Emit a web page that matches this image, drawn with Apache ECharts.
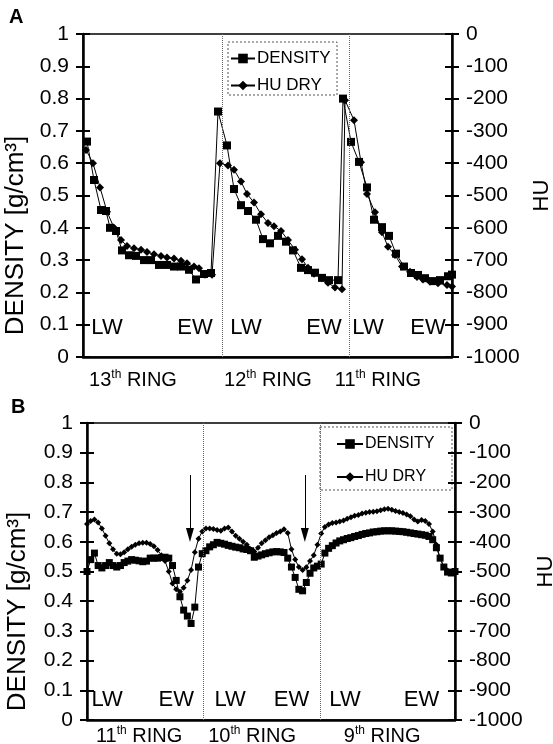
<!DOCTYPE html>
<html>
<head>
<meta charset="utf-8">
<script src="https://cdn.jsdelivr.net/npm/echarts@6/dist/echarts.min.js"></script>
<style>html,body{margin:0;padding:0;background:#fff}#c{width:553px;height:744px}</style>
</head>
<body>
<div id="c"></div>
<script>
// ---------- Panel A data (position along sample, arbitrary units) ----------
const densityPosA = [4,11,18,23,27,33,39,46,53,61,68,76,84,91,98,106,113,121,128,135,144,151,158,165,173,180,187,195,203,210,218,225,232,239,246,255,260,268,276,284,291,299,306,313,321,328,335,342,350,357,365,369];
const densityA = [0.667,0.548,0.455,0.452,0.40,0.39,0.33,0.315,0.313,0.30,0.30,0.285,0.285,0.28,0.28,0.27,0.24,0.257,0.26,0.76,0.655,0.52,0.47,0.452,0.425,0.365,0.352,0.375,0.357,0.33,0.276,0.269,0.261,0.245,0.238,0.238,0.80,0.666,0.604,0.525,0.425,0.402,0.375,0.32,0.28,0.26,0.254,0.244,0.235,0.238,0.25,0.255];
const huPosA = [3,10,17,24,31,38,44,51,58,64,71,78,84,91,98,104,111,116,122,129,137,145,151,158,164,171,178,185,191,198,205,212,219,225,231,239,245,252,259,262,271,278,284,292,299,305,312,319,327,334,340,347,355,364,369];
const huA = [-359,-400,-475,-550,-600,-638,-656,-663,-668,-675,-682,-687,-692,-695,-702,-710,-720,-725,-745,-745,-400,-407,-420,-457,-495,-522,-558,-585,-595,-610,-638,-668,-697,-724,-742,-756,-770,-785,-790,-205,-267,-397,-495,-552,-614,-659,-684,-720,-736,-752,-760,-767,-772,-777,-782];
const dividersA = [139, 266];
const ringNumA = ['13','12','11'];
const ringPosA = [50, 185, 295];
const zoneTextA = ['LW','EW','LW','EW','LW','EW'];
const zonePosA = [24, 112, 163, 241, 285, 345];

// ---------- Panel B data (sample index) ----------
const densityB = [0.50,0.54,0.562,0.52,0.512,0.52,0.53,0.52,0.515,0.52,
  0.53,0.535,0.54,0.538,0.536,0.533,0.535,0.545,0.545,0.545,
  0.547,0.548,0.545,0.52,0.47,0.415,0.37,0.35,0.325,0.38,
  0.515,0.56,0.57,0.583,0.59,0.598,0.595,0.592,0.588,0.585,
  0.582,0.58,0.576,0.574,0.57,0.548,0.552,0.556,0.56,0.563,
  0.566,0.567,0.566,0.564,0.545,0.515,0.48,0.44,0.435,0.463,
  0.494,0.512,0.518,0.525,0.562,0.578,0.587,0.596,0.603,0.607,
  0.611,0.614,0.618,0.621,0.625,0.628,0.63,0.633,0.634,0.636,
  0.637,0.637,0.637,0.636,0.635,0.634,0.632,0.63,0.628,0.626,
  0.624,0.622,0.618,0.607,0.58,0.545,0.515,0.498,0.495,0.50];
const huB = [-340,-330,-325,-335,-355,-380,-405,-425,-440,-442,
  -435,-425,-417,-410,-405,-403,-403,-407,-415,-428,
  -445,-465,-500,-540,-560,-568,-555,-530,-495,-435,
  -390,-365,-355,-355,-357,-360,-363,-355,-352,-365,
  -380,-390,-400,-410,-425,-433,-420,-405,-395,-385,
  -378,-370,-365,-358,-370,-425,-460,-485,-495,-486,
  -465,-445,-410,-372,-350,-342,-337,-335,-332,-328,
  -322,-317,-312,-310,-305,-302,-300,-299,-297,-294,
  -290,-289,-292,-296,-300,-303,-308,-314,-325,-332,
  -327,-330,-340,-365,-410,-455,-485,-497,-500,-495];
const dividersB = [31.2, 62.7];
const arrowPosB = [27.7, 58.6];
const arrowFromB = 0.825, arrowToB = 0.623;
const ringNumB = ['11','10','9'];
const ringPosB = [14, 44.4, 79.4];
const zoneTextB = ['LW','EW','LW','EW','LW','EW'];
const zonePosB = [5.4, 24, 38.5, 55, 69.4, 90];

// ---------- build ----------
const FONT = 'Liberation Sans, Arial, Helvetica, sans-serif';
const BLACK = '#000';
const zip = (xs, ys) => xs.map((x, i) => [x, ys[i]]);
const idx = arr => arr.map((v, i) => [i, v]);

function ringAxisLabel(nums, poss, margin) {
  return {
    customValues: poss,
    margin: margin,
    formatter: function (v) {
      let k = 0, best = 1e9;
      poss.forEach((p, i) => { if (Math.abs(p - v) < best) { best = Math.abs(p - v); k = i; } });
      return '{n|' + nums[k] + '}{s|th}{n| RING}';
    },
    rich: {
      n: { fontSize: 20, fontFamily: FONT, color: BLACK },
      s: { fontSize: 12, fontFamily: FONT, color: BLACK, padding: [0, 0, 11, 0] }
    }
  };
}

function xAxisDef(grid, max, nums, poss, margin) {
  return {
    gridIndex: grid, type: 'value', min: 0, max: max,
    axisLine: { show: true, lineStyle: { color: BLACK, width: 2.5 } },
    axisTick: { show: false }, splitLine: { show: false },
    axisLabel: ringAxisLabel(nums, poss, margin)
  };
}

function yMain(grid, pos, min, max, interval, name, gap, nameStyle) {
  return {
    gridIndex: grid, type: 'value', position: pos, min: min, max: max, interval: interval,
    axisLine: { show: true, onZero: false, lineStyle: { color: BLACK, width: 2.5 } },
    axisTick: { show: true, inside: false, length: 7, lineStyle: { color: BLACK, width: 2 } },
    axisLabel: { fontSize: 21, fontFamily: FONT, color: BLACK, margin: 14, formatter: v => String(v) },
    splitLine: { show: false },
    name: name, nameLocation: 'middle', nameGap: gap, nameRotate: 90,
    nameTextStyle: Object.assign({ fontSize: 22, fontFamily: FONT, color: BLACK }, nameStyle || {})
  };
}
function yDup(grid, pos, min, max, interval) {
  return {
    gridIndex: grid, type: 'value', position: pos, min: min, max: max, interval: interval,
    axisLine: { show: false }, axisLabel: { show: false }, splitLine: { show: false },
    axisTick: { show: true, inside: true, length: 7, lineStyle: { color: BLACK, width: 2 } }
  };
}

function zoneMarks(texts, poss, y, size) {
  return {
    silent: true, symbol: 'circle', symbolSize: 0,
    itemStyle: { color: 'rgba(0,0,0,0)' },
    label: { show: true, position: 'inside', formatter: '{b}', fontSize: size, fontFamily: FONT, color: BLACK },
    data: texts.map((t, i) => ({ name: t, coord: [poss[i], y] }))
  };
}
function dividerLines(poss) {
  return {
    silent: true, symbol: ['none', 'none'], label: { show: false },
    lineStyle: { color: '#666', type: 'dotted', width: 1 },
    data: poss.map(p => ({ xAxis: p }))
  };
}

const lineBase = {
  type: 'line', animation: false, showSymbol: true, connectNulls: true,
  lineStyle: { color: BLACK, width: 1 }, itemStyle: { color: BLACK }, emphasis: { disabled: true }
};

const densName = { fontSize: 26, padding: [0, 80, 0, 0] };

const option = {
  animation: false,
  backgroundColor: '#fff',
  textStyle: { fontFamily: FONT },
  title: [
    { text: 'A', left: 4, top: 2, textStyle: { fontSize: 20, fontWeight: 'bold', fontFamily: FONT, color: BLACK } },
    { text: 'B', left: 6, top: 392, textStyle: { fontSize: 20, fontWeight: 'bold', fontFamily: FONT, color: BLACK } }
  ],
  grid: [
    { left: 83, top: 34, width: 369, height: 323, show: true, borderColor: BLACK, borderWidth: 1.5, backgroundColor: 'transparent', outerBoundsMode: 'none', containLabel: false },
    { left: 87, top: 423, width: 368, height: 297, show: true, borderColor: BLACK, borderWidth: 1.5, backgroundColor: 'transparent', outerBoundsMode: 'none', containLabel: false }
  ],
  legend: [
    { data: ['DENSITY', 'HU DRY'], orient: 'vertical', left: 225, top: 45, itemWidth: 24, itemHeight: 12, itemGap: 10,
      textStyle: { fontSize: 17, fontFamily: FONT, color: BLACK, padding: [0, 0, 0, -3] }, selectedMode: false },
    { data: ['DENSITY', 'HU DRY'], orient: 'vertical', left: 331, top: 431, itemWidth: 26, itemHeight: 12, itemGap: 17,
      textStyle: { fontSize: 16, fontFamily: FONT, color: BLACK, padding: [0, 0, 0, -3] }, selectedMode: false }
  ],
  graphic: [
    { type: 'rect', shape: { x: 228, y: 42, width: 109, height: 53 }, style: { fill: 'none', stroke: '#555', lineWidth: 1, lineDash: [2, 2] }, silent: true },
    { type: 'rect', shape: { x: 320, y: 427, width: 132, height: 63 }, style: { fill: 'none', stroke: '#555', lineWidth: 1, lineDash: [2, 2] }, silent: true }
  ],
  xAxis: [
    xAxisDef(0, 369, ringNumA, ringPosA, 12),
    xAxisDef(1, 99, ringNumB, ringPosB, 5)
  ],
  yAxis: [
    yMain(0, 'left', 0, 1, 0.1, 'DENSITY [g/cm³]', 52, densName),
    yMain(0, 'right', -1000, 0, 100, 'HU', 78),
    yDup(0, 'left', 0, 1, 0.1),
    yDup(0, 'right', -1000, 0, 100),
    yMain(1, 'left', 0, 1, 0.1, 'DENSITY [g/cm³]', 56, densName),
    yMain(1, 'right', -1000, 0, 100, 'HU', 80),
    yDup(1, 'left', 0, 1, 0.1),
    yDup(1, 'right', -1000, 0, 100)
  ],
  series: [
    Object.assign({}, lineBase, {
      name: 'DENSITY', xAxisIndex: 0, yAxisIndex: 0, symbol: 'rect', symbolSize: 8,
      data: zip(densityPosA, densityA),
      markPoint: zoneMarks(zoneTextA, zonePosA, 0.09, 22)
    }),
    Object.assign({}, lineBase, {
      name: 'HU DRY', xAxisIndex: 0, yAxisIndex: 1, symbol: 'diamond', symbolSize: 8,
      data: zip(huPosA, huA),
      markLine: dividerLines(dividersA)
    }),
    Object.assign({}, lineBase, {
      name: 'DENSITY', xAxisIndex: 1, yAxisIndex: 4, symbol: 'rect', symbolSize: 7,
      data: idx(densityB),
      markPoint: zoneMarks(zoneTextB, zonePosB, 0.067, 22),
      markLine: {
        silent: true, symbol: ['none', 'triangle'], symbolSize: [8, 14], label: { show: false },
        lineStyle: { color: BLACK, type: 'solid', width: 1 },
        data: arrowPosB.map(p => [{ coord: [p, arrowFromB] }, { coord: [p, arrowToB] }])
      }
    }),
    Object.assign({}, lineBase, {
      name: 'HU DRY', xAxisIndex: 1, yAxisIndex: 5, symbol: 'diamond', symbolSize: 6,
      data: idx(huB),
      markLine: dividerLines(dividersB)
    })
  ]
};

const chart = echarts.init(document.getElementById('c'), null, { renderer: 'canvas' });
chart.setOption(option);
</script>
</body>
</html>
